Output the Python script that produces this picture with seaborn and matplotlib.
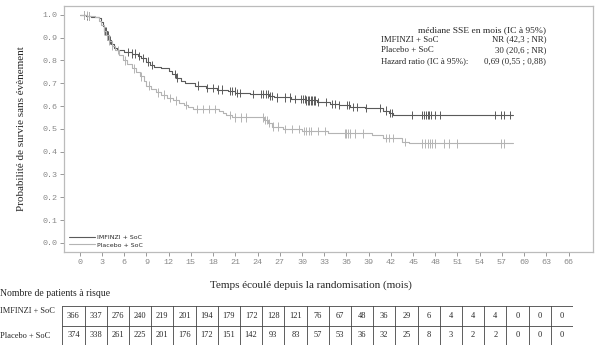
import numpy as np
import pandas as pd
import seaborn as sns
import matplotlib.pyplot as plt

sns.set_theme(style="white")
plt.rcParams["font.family"] = ["Liberation Serif", "DejaVu Serif"]

# Kaplan-Meier steps (time in months, survival)
imf_t = [0, 0.8, 1.5, 2.6, 2.9, 3.1, 3.3, 3.6, 3.9, 4.2, 4.6, 5.0, 6.0, 7.0, 7.8, 8.3, 9.0,
         9.5, 10.0, 11.0, 12.0, 12.5, 13.0, 13.6, 14.2, 15.5, 17.0, 18.5, 20.0, 21.0, 23.0,
         25.5, 26.2, 28.5, 30.5, 32.0, 33.8, 35.0, 36.5, 38.5, 41.0, 41.8, 42.3, 58.5]
imf_s = [1.0, 0.995, 0.99, 0.985, 0.97, 0.95, 0.93, 0.91, 0.89, 0.87, 0.855, 0.845, 0.838,
         0.83, 0.82, 0.81, 0.795, 0.78, 0.77, 0.765, 0.755, 0.74, 0.725, 0.71, 0.70, 0.69,
         0.68, 0.672, 0.665, 0.658, 0.652, 0.645, 0.638, 0.632, 0.625, 0.618, 0.61, 0.605,
         0.597, 0.59, 0.58, 0.57, 0.56, 0.56]
pla_t = [0, 1.0, 2.0, 2.6, 2.9, 3.2, 3.5, 3.9, 4.3, 4.8, 5.3, 5.8, 6.4, 7.0, 7.6, 8.1, 8.6,
         9.0, 9.6, 10.3, 11.0, 11.8, 12.6, 13.4, 14.0, 14.6, 15.3, 18.8, 19.3, 19.8, 20.6,
         24.9, 25.4, 26.0, 27.5, 30.0, 33.5, 39.5, 41.0, 43.5, 44.5, 58.5]
pla_s = [1.0, 0.995, 0.99, 0.975, 0.955, 0.93, 0.91, 0.885, 0.865, 0.845, 0.825, 0.80,
         0.785, 0.765, 0.75, 0.73, 0.71, 0.69, 0.675, 0.66, 0.65, 0.635, 0.625, 0.615,
         0.605, 0.595, 0.588, 0.58, 0.57, 0.56, 0.55, 0.54, 0.525, 0.51, 0.50, 0.492, 0.48,
         0.472, 0.46, 0.443, 0.436, 0.436]

# censoring times
imf_cens = [0.5, 1.0, 1.2, 3.4, 3.5, 3.7, 3.8, 4.0, 4.1, 6.5, 7.0, 7.4, 8.0, 8.5, 9.2,
            9.8, 12.8, 13.1, 16.0, 17.2, 18.0, 18.6, 19.2, 20.3, 20.6, 20.9, 21.2, 21.6,
            23.4, 24.5, 24.8, 25.1, 25.4, 25.7, 25.9, 26.6, 27.7, 28.4, 29.1, 29.9, 30.2,
            30.4, 30.6, 30.8, 31.0, 31.2, 31.4, 31.6, 31.8, 32.2, 33.3, 34.0, 34.4, 35.0,
            36.1, 36.3, 36.9, 37.4, 38.7, 40.5, 41.4, 41.9, 42.1, 44.8, 46.2, 46.5, 46.8,
            47.0, 47.2, 47.4, 47.9, 48.6, 56.0, 56.9, 57.3, 58.1]
pla_cens = [0.6, 0.9, 1.3, 3.3, 3.6, 4.0, 4.4, 5.2, 6.1, 7.3, 8.2, 9.3, 10.5, 11.4,
            12.2, 13.0, 14.3, 15.8, 16.6, 17.5, 18.3, 20.3, 21.0, 21.8, 22.5, 24.8, 25.0,
            25.3, 25.6, 26.1, 26.8, 27.7, 28.6, 29.6, 30.3, 30.6, 30.9, 31.2, 32.2, 33.1,
            35.8, 36.0, 36.2, 36.5, 37.1, 38.2, 41.4, 41.8, 42.3, 43.9, 46.2, 46.6, 47.0,
            47.3, 47.6, 48.0, 49.2, 49.8, 51.0, 56.9, 57.3]

arms = ["IMFINZI + SoC", "Placebo + SoC"]
colors = ["#5a5a5a", "#b4b4b4"]

# patients at risk
risk_months = list(range(0, 67, 3))
risk_imf = [366, 337, 276, 240, 219, 201, 194, 179, 172, 128, 121, 76, 67, 48, 36, 29,
            6, 4, 4, 4, 0, 0, 0]
risk_pla = [374, 338, 261, 225, 201, 176, 172, 151, 142, 93, 83, 57, 53, 36, 32, 25,
            8, 3, 2, 2, 0, 0, 0]

curves = pd.concat([
    pd.DataFrame({"t": imf_t, "s": imf_s, "arm": arms[0]}),
    pd.DataFrame({"t": pla_t, "s": pla_s, "arm": arms[1]}),
])


def surv_at(times, ts, ss):
    idx = np.searchsorted(ts, times, side="right") - 1
    return np.asarray(ss)[idx]


cens = pd.concat([
    pd.DataFrame({"t": imf_cens, "s": surv_at(imf_cens, imf_t, imf_s), "arm": arms[0]}),
    pd.DataFrame({"t": pla_cens, "s": surv_at(pla_cens, pla_t, pla_s), "arm": arms[1]}),
])

fig = plt.figure(figsize=(6.05, 3.5), dpi=100)
ax = fig.add_axes([64.3 / 605, 1 - 252 / 350, (593 - 64.3) / 605, (252 - 5.7) / 350])

pal = dict(zip(arms, colors))
sns.lineplot(data=curves, x="t", y="s", hue="arm", palette=pal, drawstyle="steps-post",
             estimator=None, linewidth=0.8, ax=ax)
sns.scatterplot(data=cens, x="t", y="s", hue="arm", palette=pal, marker="|", s=36,
                linewidth=0.7, legend=False, ax=ax)

ax.set_xlim(-2.1, 69.3)
ax.set_ylim(-0.04, 1.04)
ax.set_xticks(risk_months)
ax.set_yticks(np.arange(0, 1.01, 0.1))
ax.set_xticklabels([str(m) for m in risk_months])
ax.set_yticklabels([f"{v:.1f}" for v in np.arange(0, 1.01, 0.1)])
ax.tick_params(axis="both", which="both", direction="out", length=3, width=0.6,
               color="#888888", labelcolor="#888888", labelsize=6, pad=2,
               bottom=True, left=True)
for lab in ax.get_xticklabels() + ax.get_yticklabels():
    lab.set_family("Liberation Mono")
for sp in ax.spines.values():
    sp.set_color("#bbbbbb")
    sp.set_linewidth(0.9)
ax.set_xlabel("")
ax.set_ylabel("")

leg = ax.legend(loc="lower left", bbox_to_anchor=(0.0, 0.0), frameon=False,
                handlelength=4.2, handletextpad=0.4, labelspacing=0.35,
                borderaxespad=0.3, prop={"family": "DejaVu Sans", "size": 4.5})
for line in leg.get_lines():
    line.set_linewidth(0.8)

fig.text(22 / 605, 1 - 128.5 / 350, "Probabilité de survie sans évènement",
         rotation=90, ha="center", va="center", fontsize=8)
fig.text(311 / 605, 1 - 285 / 350, "Temps écoulé depuis la randomisation (mois)",
         ha="center", va="center", fontsize=8)

# median annotation
fig.text(482 / 605, 1 - 30 / 350, "médiane SSE en mois (IC à 95%)",
         ha="center", va="center", fontsize=6.8)
rows = [("IMFINZI + SoC", "NR (42,3 ; NR)"),
        ("Placebo + SoC", "30 (20,6 ; NR)"),
        ("Hazard ratio (IC à 95%):", "0,69 (0,55 ; 0,88)")]
for i, (lab, val) in enumerate(rows):
    yy = 1 - (39.5 + 11 * i) / 350
    fig.text(381 / 605, yy, lab, ha="left", va="center", fontsize=6.3)
    fig.text(546 / 605, yy, val, ha="right", va="center", fontsize=6.3)

# at-risk table
fig.text(0.0, 1 - 293 / 350, "Nombre de patients à risque", ha="left", va="center",
         fontsize=7)
fig.text(0.0, 1 - 311 / 350, arms[0], ha="left", va="center", fontsize=6)
fig.text(0.0, 1 - 336 / 350, arms[1], ha="left", va="center", fontsize=6)

tab = fig.add_axes([62.3 / 605, 1 - 345 / 350, (573 - 62.3) / 605, (345 - 306) / 350])
ncol = len(risk_months)
tab.set_xlim(0, ncol)
tab.set_ylim(0, 2)
tab.axis("off")
for k in range(ncol + 1):
    tab.axvline(k, color="#444444", linewidth=0.6)
for k in range(3):
    tab.axhline(k, color="#444444", linewidth=0.6)
for k in range(ncol):
    tab.text(k + 0.5, 1.5, str(risk_imf[k]), ha="center", va="center", fontsize=6)
    tab.text(k + 0.5, 0.5, str(risk_pla[k]), ha="center", va="center", fontsize=6)

fig.savefig("out.png", dpi=100)
